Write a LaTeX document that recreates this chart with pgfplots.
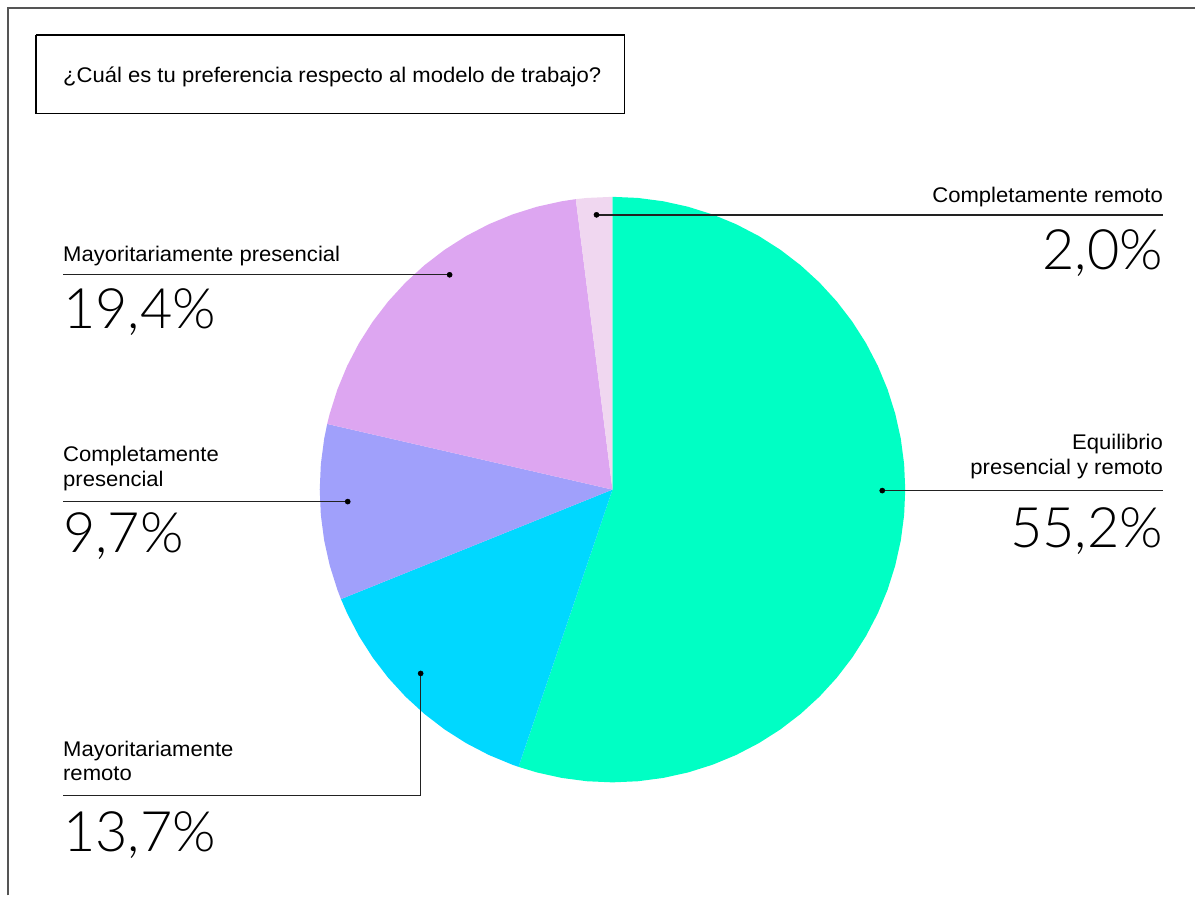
\documentclass[border=0pt]{standalone}
\usepackage{fontspec}
\setmainfont{Liberation Sans}[FakeStretch=1.04]
\newfontfamily\thinfont{Lato Light}
\usepackage{pgfplots}
\pgfplotsset{compat=1.18}
\definecolor{cgreen}{HTML}{00FFC4}
\definecolor{ccyan}{HTML}{00D8FF}
\definecolor{cblue}{HTML}{A0A0FB}
\definecolor{cpink}{HTML}{DDA6F1}
\definecolor{clpink}{HTML}{F0D7F0}
\definecolor{cline}{HTML}{222222}
\definecolor{cframe}{HTML}{555555}
\newcommand{\lab}{\fontsize{21.3}{25}\selectfont}
\newcommand{\pct}{\thinfont\fontsize{56}{62}\selectfont}
\begin{document}
\begin{tikzpicture}
\begin{axis}[
  scale only axis, width=1196bp, height=896bp,
  xmin=-613, xmax=583, ymin=-406, ymax=490,
  hide axis, clip=false,
]
\path (rel axis cs:0,0) rectangle (rel axis cs:1,1);
% pie slices (angle, radius), clockwise from top
% Equilibrio presencial y remoto 55,2%
\addplot[draw=none, fill=cgreen, data cs=polar] coordinates {
 (0,0) (90,293) (85,293) (80,293) (75,293) (70,293) (65,293) (60,293) (55,293) (50,293)
 (45,293) (40,293) (35,293) (30,293) (25,293) (20,293) (15,293) (10,293) (5,293) (0,293)
 (-5,293) (-10,293) (-15,293) (-20,293) (-25,293) (-30,293) (-35,293) (-40,293) (-45,293)
 (-50,293) (-55,293) (-60,293) (-65,293) (-70,293) (-75,293) (-80,293) (-85,293) (-90,293)
 (-95,293) (-100,293) (-105,293) (-108.72,293) (0,0)};
% Mayoritariamente remoto 13,7%
\addplot[draw=none, fill=ccyan, data cs=polar] coordinates {
 (0,0) (-108.72,293) (-110,293) (-115,293) (-120,293) (-125,293) (-130,293) (-135,293)
 (-140,293) (-145,293) (-150,293) (-155,293) (-158.04,293) (0,0)};
% Completamente presencial 9,7%
\addplot[draw=none, fill=cblue, data cs=polar] coordinates {
 (0,0) (-158.04,293) (-160,293) (-165,293) (-170,293) (-175,293) (-180,293) (-185,293)
 (-190,293) (-192.96,293) (0,0)};
% Mayoritariamente presencial 19,4%
\addplot[draw=none, fill=cpink, data cs=polar] coordinates {
 (0,0) (-192.96,293) (-195,293) (-200,293) (-205,293) (-210,293) (-215,293) (-220,293)
 (-225,293) (-230,293) (-235,293) (-240,293) (-245,293) (-250,293) (-255,293) (-260,293)
 (-262.8,293) (0,0)};
% Completamente remoto 2,0%
\addplot[draw=none, fill=clpink, data cs=polar] coordinates {
 (0,0) (-262.8,293) (-265,293) (-270,293) (0,0)};
% frame
\addplot[cframe, line width=2bp] coordinates {(-605,-406) (-605,482) (583,482)};
% title box
\addplot[black, line width=1.2bp] coordinates {(-577,455) (12,455) (12,376) (-577,376) (-577,455)};
\node[anchor=base west, inner sep=0] at (axis cs:-550,407) {\lab ¿Cuál es tu preferencia respecto al modelo de trabajo?};
% leader lines
\addplot[cline, line width=1.4bp] coordinates {(-16,275) (551,275)};
\addplot[cline, line width=1.4bp] coordinates {(-163,215) (-550,215)};
\addplot[cline, line width=1.4bp] coordinates {(-265,-12) (-550,-12)};
\addplot[cline, line width=1.4bp] coordinates {(270,-1) (551,-1)};
\addplot[cline, line width=1.4bp] coordinates {(-192,-184) (-192,-306) (-550,-306)};
\addplot[only marks, mark=*, mark size=2.6bp, black] coordinates {(-16,275) (-163,215) (-265,-12) (270,-1) (-192,-184)};
% labels
\node[anchor=base east, inner sep=0] at (axis cs:551,287) {\lab Completamente remoto};
\node[anchor=base east, inner sep=0] at (axis cs:551,220) {\pct 2,0\%};
\node[anchor=base west, inner sep=0] at (axis cs:-550,228) {\lab Mayoritariamente presencial};
\node[anchor=base west, inner sep=0] at (axis cs:-550,161) {\pct 19,4\%};
\node[anchor=base west, inner sep=0] at (axis cs:-550,28) {\lab Completamente};
\node[anchor=base west, inner sep=0] at (axis cs:-550,3) {\lab presencial};
\node[anchor=base west, inner sep=0] at (axis cs:-550,-63) {\pct 9,7\%};
\node[anchor=base east, inner sep=0] at (axis cs:551,40) {\lab Equilibrio};
\node[anchor=base east, inner sep=0] at (axis cs:551,15) {\lab presencial y remoto};
\node[anchor=base east, inner sep=0] at (axis cs:551,-58) {\pct 55,2\%};
\node[anchor=base west, inner sep=0] at (axis cs:-550,-267) {\lab Mayoritariamente};
\node[anchor=base west, inner sep=0] at (axis cs:-550,-291) {\lab remoto};
\node[anchor=base west, inner sep=0] at (axis cs:-550,-362) {\pct 13,7\%};
\end{axis}
\end{tikzpicture}
\end{document}
